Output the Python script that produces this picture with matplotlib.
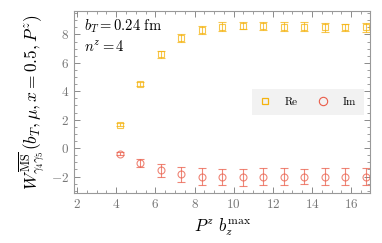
import numpy as np
import matplotlib
matplotlib.use("Agg")
import matplotlib.pyplot as plt
from matplotlib.lines import Line2D
from matplotlib.ticker import MultipleLocator

# ---------- Data ----------
pz_bmax = [4.19, 5.24, 6.28, 7.33, 8.38, 9.42, 10.47, 11.52, 12.57, 13.61, 14.66, 15.71, 16.76]
re_vals = [1.65, 4.50, 6.60, 7.75, 8.30, 8.55, 8.60, 8.60, 8.55, 8.55, 8.50, 8.50, 8.50]
re_errs = [0.10, 0.15, 0.25, 0.30, 0.30, 0.30, 0.25, 0.30, 0.30, 0.30, 0.30, 0.25, 0.30]
im_vals = [-0.40, -1.05, -1.55, -1.85, -2.00, -2.05, -2.05, -2.00, -2.00, -2.00, -2.00, -2.00, -2.00]
im_errs = [0.10, 0.30, 0.45, 0.55, 0.60, 0.55, 0.60, 0.60, 0.60, 0.55, 0.60, 0.60, 0.60]

RE_COLOR = "#F5B30F"
IM_COLOR = "#EA5D4A"
GRAY = "#777777"

plt.rcParams["font.family"] = "serif"
plt.rcParams["font.serif"] = ["cmr10", "DejaVu Serif"]
plt.rcParams["mathtext.fontset"] = "cm"
plt.rcParams["axes.formatter.use_mathtext"] = True

fig = plt.figure(figsize=(3.82, 2.43), dpi=100)
ax = fig.add_axes([0.194, 0.206, 0.775, 0.749])

ax.errorbar(pz_bmax, re_vals, yerr=re_errs, fmt="s", ms=4, mfc="none", mec=RE_COLOR,
            mew=0.8, ecolor=RE_COLOR, elinewidth=0.8, capsize=3, capthick=0.8,
            alpha=0.75)
ax.errorbar(pz_bmax, im_vals, yerr=im_errs, fmt="o", ms=5, mfc="none", mec=IM_COLOR,
            mew=0.8, ecolor=IM_COLOR, elinewidth=0.8, capsize=3, capthick=0.8,
            alpha=0.75)

ax.set_xlim(1.85, 16.97)
ax.set_ylim(-3.15, 9.65)
ax.xaxis.set_major_locator(MultipleLocator(2))
ax.xaxis.set_minor_locator(MultipleLocator(0.5))
ax.yaxis.set_major_locator(MultipleLocator(2))
ax.yaxis.set_minor_locator(MultipleLocator(0.5))
ax.tick_params(which="both", direction="in", top=True, right=True, colors=GRAY,
               labelsize=9.5, labelcolor=GRAY)
ax.tick_params(which="major", length=4, width=0.6)
ax.tick_params(which="minor", length=2, width=0.5)
for s in ax.spines.values():
    s.set_color("#999999")
    s.set_linewidth(0.8)

ax.set_xlabel(r"$P^z\ b_z^{\rm max}$", fontsize=12)
ax.set_ylabel(r"$W^{\overline{\rm MS}}_{\gamma_4\gamma_5}(b_T, \mu, x=0.5, P^z)$", fontsize=12.5,
              labelpad=3)

ax.text(0.035, 0.965, r"$b_T = 0.24\ {\rm fm}$", transform=ax.transAxes, fontsize=10.5,
        va="top", ha="left")
ax.text(0.035, 0.845, r"$n^z = 4$", transform=ax.transAxes, fontsize=10.5,
        va="top", ha="left")

handles = [
    Line2D([], [], ls="none", marker="s", ms=4, mfc="none", mec=RE_COLOR, mew=0.9),
    Line2D([], [], ls="none", marker="o", ms=6, mfc="none", mec=IM_COLOR, mew=0.8),
]
leg = ax.legend(handles, ["Re", "Im"], loc="center right", ncol=2, fontsize=8,
                frameon=True, fancybox=False, bbox_to_anchor=(0.98, 0.5),
                handlelength=0.8, handletextpad=1.4, columnspacing=1.8,
                borderpad=0.75, borderaxespad=0)
leg.get_frame().set_facecolor("#F2F2F2")
leg.get_frame().set_edgecolor("none")
leg.get_frame().set_alpha(1)

fig.savefig("out.png", dpi=100)
